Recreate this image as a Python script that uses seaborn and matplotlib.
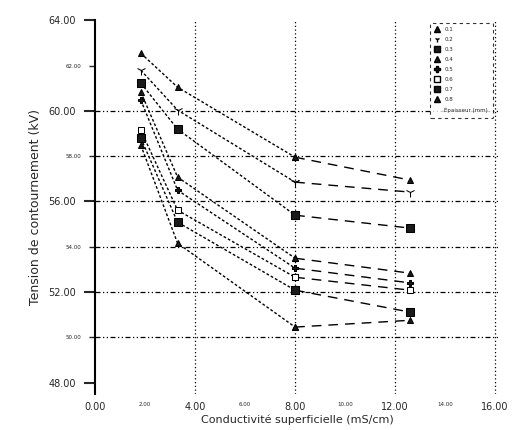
import matplotlib
matplotlib.use("Agg")
import matplotlib.pyplot as plt
import seaborn as sns
import pandas as pd
from matplotlib.lines import Line2D

# ---- data ----
conductivity = [1.83, 3.3, 8.0, 12.6]
series_names = ["0.1", "0.2", "0.3", "0.4", "0.5", "0.6", "0.7", "0.8"]
s1 = [62.54, 61.04, 57.95, 56.94]
s2 = [61.79, 60.03, 56.85, 56.41]
s3 = [61.22, 59.19, 55.39, 54.82]
s4 = [60.82, 57.07, 53.49, 52.83]
s5 = [60.47, 56.49, 53.05, 52.40]
s6 = [59.14, 55.61, 52.65, 52.08]
s7 = [58.79, 55.08, 52.08, 51.11]
s8 = [58.48, 54.15, 50.45, 50.75]
all_series = [s1, s2, s3, s4, s5, s6, s7, s8]
x_major = [0, 4, 8, 12, 16]
x_minor = [2, 6, 10, 14]
y_major = [48, 52, 56, 60, 64]
y_minor = [50, 54, 58, 62]
xlabel = "Conductivité superficielle (mS/cm)"
ylabel = "Tension de contournement (kV)"
legend_title = "Épaisseur (mm)"

rows = []
for name, vals in zip(series_names, all_series):
    for i, (xv, yv) in enumerate(zip(conductivity, vals)):
        rows.append({"x": xv, "y": yv, "serie": name, "idx": i})
df = pd.DataFrame(rows)

sns.set_theme(style="white")
plt.rcParams["font.family"] = ["DejaVu Sans"]

fig = plt.figure(figsize=(5.14, 4.30), dpi=100)
ax = fig.add_axes([0.185, 0.084, 0.788, 0.869])

markers = ["^", "1", "s", "^", "P", "s", "s", "^"]
fills = ["k", "k", "k", "k", "k", "white", "k", "k"]
sizes = [5, 7, 6, 4, 5, 5, 6, 4]

# gridlines
for yv in [50, 52, 54, 56, 58, 60]:
    ax.axhline(yv, color="black", lw=0.9, ls=(0, (4, 2, 1, 2, 1, 2)), zorder=0)
for xv in [4, 8, 12, 16]:
    ax.axvline(xv, color="black", lw=0.9, ls=(0, (1, 2)), zorder=0)

handles = []
for k, name in enumerate(series_names):
    d = df[df["serie"] == name]
    d1 = d[d["idx"] <= 2]
    d2 = d[d["idx"] >= 2]
    sns.lineplot(data=d1, x="x", y="y", ax=ax, color="black", lw=1.0,
                 linestyle=(0, (2, 1.5)), marker=markers[k], markersize=sizes[k],
                 markerfacecolor=fills[k], markeredgecolor="black", legend=False,
                 estimator=None, sort=False)
    sns.lineplot(data=d2, x="x", y="y", ax=ax, color="black", lw=1.0,
                 linestyle=(0, (7, 5)), marker=markers[k], markersize=sizes[k],
                 markerfacecolor=fills[k], markeredgecolor="black", legend=False,
                 estimator=None, sort=False)
    handles.append(Line2D([], [], color="black", lw=0, marker=markers[k],
                          markersize=4, markerfacecolor=fills[k],
                          markeredgecolor="black", label=name))
handles.append(Line2D([], [], lw=0, label=legend_title))

ax.set_xlim(0, 16.2)
ax.set_ylim(47.5, 64)
ax.set_xticks(x_major)
ax.set_xticklabels([f"{v:.2f}" for v in x_major], fontsize=7)
ax.set_xticks(x_minor, minor=True)
ax.set_xticklabels([f"{v:.2f}" for v in x_minor], minor=True, fontsize=4)
ax.set_yticks(y_major)
ax.set_yticklabels([f"{v:.2f}" for v in y_major], fontsize=7)
ax.set_yticks(y_minor, minor=True)
ax.set_yticklabels([f"{v:.2f}" for v in y_minor], minor=True, fontsize=4)
ax.tick_params(axis="y", which="major", direction="out", length=8, width=1.5, left=True, pad=6)
ax.tick_params(axis="y", which="minor", direction="out", length=4, width=1, left=True, pad=6)
ax.tick_params(axis="x", which="both", length=0, pad=6)

for sp in ["top", "right", "bottom"]:
    ax.spines[sp].set_visible(False)
ax.spines["left"].set_color("black")
ax.spines["left"].set_linewidth(1.5)

ax.set_xlabel(xlabel, fontsize=8, labelpad=2)
ax.set_ylabel(ylabel, fontsize=9, labelpad=4)

leg = ax.legend(handles=handles, loc="upper left", bbox_to_anchor=(0.82, 1.0),
                fontsize=4, frameon=True, fancybox=True, handlelength=1,
                labelspacing=0.9, borderpad=0.8)
leg.get_frame().set_edgecolor("black")
leg.get_frame().set_linestyle((0, (3, 3)))
leg.get_frame().set_linewidth(0.8)

fig.savefig("out.png", dpi=100)
